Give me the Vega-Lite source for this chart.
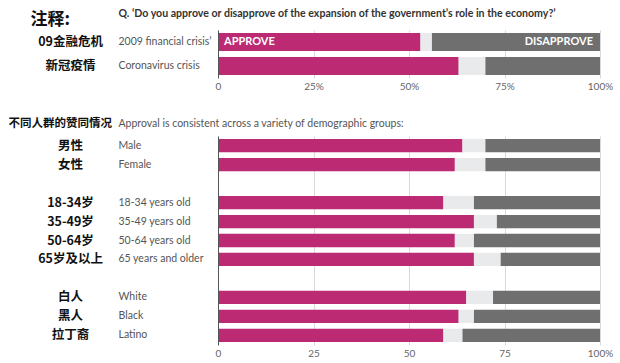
{
  "$schema": "https://vega.github.io/schema/vega-lite/v6.json",
  "background": "white",
  "padding": {"left": 8, "top": 8, "right": 0, "bottom": 0},
  "spacing": 26,
  "config": {
    "view": {"stroke": null},
    "font": "Lato",
    "axis": {"labelFont": "Lato", "titleFont": "Lato"}
  },
  "datasets": {
    "top": [
      {"en": "2009 financial crisis’", "zh": "09金融危机", "resp": "Approve", "ord": 1, "pct": 53},
      {"en": "2009 financial crisis’", "zh": "09金融危机", "resp": "Neither", "ord": 2, "pct": 3},
      {"en": "2009 financial crisis’", "zh": "09金融危机", "resp": "Disapprove", "ord": 3, "pct": 44},
      {"en": "Coronavirus crisis", "zh": "新冠疫情", "resp": "Approve", "ord": 1, "pct": 63},
      {"en": "Coronavirus crisis", "zh": "新冠疫情", "resp": "Neither", "ord": 2, "pct": 7},
      {"en": "Coronavirus crisis", "zh": "新冠疫情", "resp": "Disapprove", "ord": 3, "pct": 30}
    ],
    "bottom": [
      {"en": "Male", "zh": "男性", "resp": "Approve", "ord": 1, "pct": 64},
      {"en": "Male", "zh": "男性", "resp": "Neither", "ord": 2, "pct": 6},
      {"en": "Male", "zh": "男性", "resp": "Disapprove", "ord": 3, "pct": 30},
      {"en": "Female", "zh": "女性", "resp": "Approve", "ord": 1, "pct": 62},
      {"en": "Female", "zh": "女性", "resp": "Neither", "ord": 2, "pct": 8},
      {"en": "Female", "zh": "女性", "resp": "Disapprove", "ord": 3, "pct": 30},
      {"en": "18-34 years old", "zh": "18-34岁", "resp": "Approve", "ord": 1, "pct": 59},
      {"en": "18-34 years old", "zh": "18-34岁", "resp": "Neither", "ord": 2, "pct": 8},
      {"en": "18-34 years old", "zh": "18-34岁", "resp": "Disapprove", "ord": 3, "pct": 33},
      {"en": "35-49 years old", "zh": "35-49岁", "resp": "Approve", "ord": 1, "pct": 67},
      {"en": "35-49 years old", "zh": "35-49岁", "resp": "Neither", "ord": 2, "pct": 6},
      {"en": "35-49 years old", "zh": "35-49岁", "resp": "Disapprove", "ord": 3, "pct": 27},
      {"en": "50-64 years old", "zh": "50-64岁", "resp": "Approve", "ord": 1, "pct": 62},
      {"en": "50-64 years old", "zh": "50-64岁", "resp": "Neither", "ord": 2, "pct": 5},
      {"en": "50-64 years old", "zh": "50-64岁", "resp": "Disapprove", "ord": 3, "pct": 33},
      {"en": "65 years and older", "zh": "65岁及以上", "resp": "Approve", "ord": 1, "pct": 67},
      {"en": "65 years and older", "zh": "65岁及以上", "resp": "Neither", "ord": 2, "pct": 7},
      {"en": "65 years and older", "zh": "65岁及以上", "resp": "Disapprove", "ord": 3, "pct": 26},
      {"en": "White", "zh": "白人", "resp": "Approve", "ord": 1, "pct": 65},
      {"en": "White", "zh": "白人", "resp": "Neither", "ord": 2, "pct": 7},
      {"en": "White", "zh": "白人", "resp": "Disapprove", "ord": 3, "pct": 28},
      {"en": "Black", "zh": "黑人", "resp": "Approve", "ord": 1, "pct": 63},
      {"en": "Black", "zh": "黑人", "resp": "Neither", "ord": 2, "pct": 4},
      {"en": "Black", "zh": "黑人", "resp": "Disapprove", "ord": 3, "pct": 33},
      {"en": "Latino", "zh": "拉丁裔", "resp": "Approve", "ord": 1, "pct": 59},
      {"en": "Latino", "zh": "拉丁裔", "resp": "Neither", "ord": 2, "pct": 5},
      {"en": "Latino", "zh": "拉丁裔", "resp": "Disapprove", "ord": 3, "pct": 36}
    ],
    "toplabels": [
      {"en": "2009 financial crisis’", "left": "APPROVE", "right": "DISAPPROVE"}
    ]
  },
  "vconcat": [
    {
      "width": 382,
      "height": 48,
      "resolve": {"scale": {"y": "independent"}, "axis": {"y": "independent"}},
      "layer": [
        {
          "data": {"name": "top"},
          "mark": {"type": "bar"},
          "encoding": {
            "y": {
              "field": "en", "type": "nominal", "sort": null,
              "scale": {"paddingInner": 0.25, "paddingOuter": 0.125},
              "axis": {
                "orient": "left", "domain": true, "domainColor": "#555", "domainWidth": 1, "zindex": 1,
                "ticks": false, "tickSize": 0, "labelAlign": "left", "labelPadding": 100,
                "labelFontSize": 10.5, "labelColor": "#555", "labelFont": "Lato",
                "title": "Q. ‘Do you approve or disapprove of the expansion of the government’s role in the economy?’",
                "titleAngle": 0, "titleAlign": "left", "titleBaseline": "middle",
                "titleX": -100, "titleY": -17, "titleFontSize": 10.6, "titleFontWeight": "bold",
                "titleColor": "#333", "titleFont": "Lato", "titleLimit": 600
              }
            },
            "x": {
              "field": "pct", "type": "quantitative", "stack": "zero",
              "scale": {"domain": [0, 100], "nice": false},
              "axis": {
                "values": [0, 25, 50, 75, 100], "title": null, "domain": false,
                "ticks": false, "tickSize": 0, "labelPadding": 3, "labelFontSize": 10,
                "labelColor": "#666", "labelExpr": "datum.value == 0 ? '0' : datum.value + '%'",
                "grid": true, "gridColor": "#dadada", "gridOpacity": 1, "gridWidth": 1, "labelFlush": false
              }
            },
            "color": {
              "field": "resp", "type": "nominal",
              "scale": {"domain": ["Approve", "Neither", "Disapprove"], "range": ["#bc2a73", "#e9eaec", "#6f6f6f"]},
              "legend": null
            },
            "order": {"field": "ord", "type": "quantitative"}
          }
        },
        {
          "data": {"name": "toplabels"},
          "mark": {"type": "text", "align": "left", "dx": 6, "fontWeight": "bold", "fontSize": 11, "color": "white", "font": "Lato"},
          "encoding": {
            "y": {
              "field": "en", "type": "nominal", "axis": null,
              "scale": {"domain": ["2009 financial crisis’", "Coronavirus crisis"], "paddingInner": 0.25, "paddingOuter": 0.125}
            },
            "x": {
              "datum": 0, "type": "quantitative",
              "axis": {
                "values": [0, 25, 50, 75, 100], "title": null, "domain": false,
                "ticks": false, "tickSize": 0, "labelPadding": 3, "labelFontSize": 10,
                "labelColor": "#666", "labelExpr": "datum.value == 0 ? '0' : datum.value + '%'",
                "grid": true, "gridColor": "#dadada", "gridOpacity": 1, "gridWidth": 1, "labelFlush": false
              }
            },
            "text": {"field": "left"}
          }
        },
        {
          "data": {"name": "toplabels"},
          "mark": {"type": "text", "align": "right", "dx": -7, "fontWeight": "bold", "fontSize": 11, "color": "white", "font": "Lato"},
          "encoding": {
            "y": {
              "field": "en", "type": "nominal", "axis": null,
              "scale": {"domain": ["2009 financial crisis’", "Coronavirus crisis"], "paddingInner": 0.25, "paddingOuter": 0.125}
            },
            "x": {
              "datum": 100, "type": "quantitative",
              "axis": {
                "values": [0, 25, 50, 75, 100], "title": null, "domain": false,
                "ticks": false, "tickSize": 0, "labelPadding": 3, "labelFontSize": 10,
                "labelColor": "#666", "labelExpr": "datum.value == 0 ? '0' : datum.value + '%'",
                "grid": true, "gridColor": "#dadada", "gridOpacity": 1, "gridWidth": 1, "labelFlush": false
              }
            },
            "text": {"field": "right"}
          }
        },
        {
          "data": {"name": "top"},
          "mark": {"type": "bar", "opacity": 0},
          "encoding": {
            "y": {
              "field": "zh", "type": "nominal", "sort": null,
              "scale": {"paddingInner": 0.25, "paddingOuter": 0.125},
              "axis": {
                "orient": "left", "domain": false, "ticks": false, "tickSize": 0,
                "labelAlign": "center", "labelPadding": 148, "labelFontSize": 12.5,
                "labelFontWeight": "bold", "labelColor": "#111", "labelFont": "Noto Sans CJK SC",
                "title": "注释:", "titleAngle": 0, "titleAlign": "left", "titleBaseline": "middle",
                "titleX": -188, "titleY": -11, "titleFontSize": 17, "titleFontWeight": "bold",
                "titleColor": "#111", "titleFont": "Noto Sans CJK SC"
              }
            },
            "x": {"field": "pct", "type": "quantitative", "stack": "zero"},
            "detail": {"field": "resp"}
          }
        }
      ]
    },
    {
      "width": 382,
      "height": 209,
      "resolve": {"scale": {"y": "independent"}, "axis": {"y": "independent"}},
      "data": {"name": "bottom"},
      "layer": [
        {
          "mark": {"type": "bar"},
          "encoding": {
            "y": {
              "field": "en", "type": "nominal",
              "scale": {
                "domain": ["Male", "Female", " ", "18-34 years old", "35-49 years old", "50-64 years old", "65 years and older", "  ", "White", "Black", "Latino"],
                "paddingInner": 0.3, "paddingOuter": 0.16
              },
              "axis": {
                "orient": "left", "domain": true, "domainColor": "#555", "domainWidth": 1, "zindex": 1,
                "ticks": false, "tickSize": 0, "labelAlign": "left", "labelPadding": 100,
                "labelFontSize": 10.5, "labelColor": "#555", "labelFont": "Lato",
                "title": "Approval is consistent across a variety of demographic groups:",
                "titleAngle": 0, "titleAlign": "left", "titleBaseline": "middle",
                "titleX": -100, "titleY": -13, "titleFontSize": 10.5, "titleFontWeight": "normal",
                "titleColor": "#555", "titleFont": "Lato", "titleLimit": 600
              }
            },
            "x": {
              "field": "pct", "type": "quantitative", "stack": "zero",
              "scale": {"domain": [0, 100], "nice": false},
              "axis": {
                "values": [0, 25, 50, 75, 100], "title": null, "domain": false,
                "ticks": false, "tickSize": 0, "labelPadding": 3, "labelFontSize": 10,
                "labelColor": "#666", "labelExpr": "datum.value == 100 ? '100%' : datum.value",
                "grid": true, "gridColor": "#dadada", "gridOpacity": 1, "gridWidth": 1, "labelFlush": false
              }
            },
            "color": {
              "field": "resp", "type": "nominal",
              "scale": {"domain": ["Approve", "Neither", "Disapprove"], "range": ["#bc2a73", "#e9eaec", "#6f6f6f"]},
              "legend": null
            },
            "order": {"field": "ord", "type": "quantitative"}
          }
        },
        {
          "mark": {"type": "bar", "opacity": 0},
          "encoding": {
            "y": {
              "field": "zh", "type": "nominal",
              "scale": {
                "domain": ["男性", "女性", " ", "18-34岁", "35-49岁", "50-64岁", "65岁及以上", "  ", "白人", "黑人", "拉丁裔"],
                "paddingInner": 0.3, "paddingOuter": 0.16
              },
              "axis": {
                "orient": "left", "domain": false, "ticks": false, "tickSize": 0,
                "labelAlign": "center", "labelPadding": 148, "labelFontSize": 12.5,
                "labelFontWeight": "bold", "labelColor": "#111", "labelFont": "Noto Sans CJK SC",
                "title": "不同人群的赞同情况", "titleAngle": 0, "titleAlign": "left", "titleBaseline": "middle",
                "titleX": -210, "titleY": -13, "titleFontSize": 11.5, "titleFontWeight": "bold",
                "titleColor": "#111", "titleFont": "Noto Sans CJK SC"
              }
            },
            "x": {"field": "pct", "type": "quantitative", "stack": "zero"},
            "detail": {"field": "resp"}
          }
        }
      ]
    }
  ]
}
